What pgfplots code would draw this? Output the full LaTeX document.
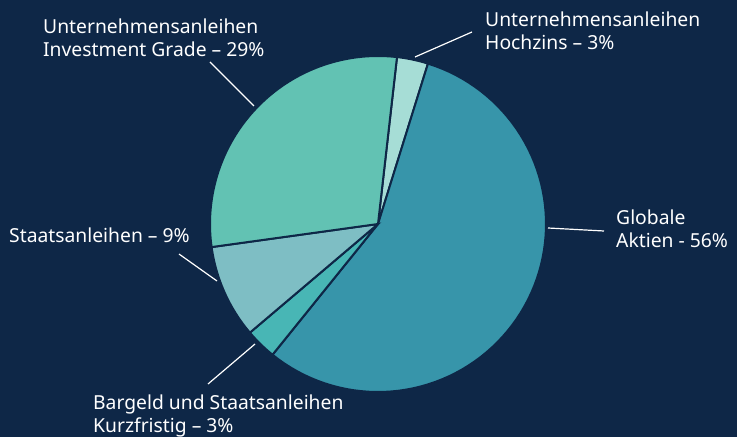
\documentclass[border=0pt]{standalone}
\usepackage{fontspec}
\setmainfont{Noto Sans}
\usepackage{pgfplots}
\pgfplotsset{compat=1.18}
\definecolor{bg}{HTML}{0E2747}
\definecolor{cHZ}{HTML}{A6DDD6}
\definecolor{cGA}{HTML}{3795AA}
\definecolor{cBG}{HTML}{48B6B5}
\definecolor{cST}{HTML}{7EBEC4}
\definecolor{cIG}{HTML}{62C2B3}
\newcommand\lab{\fontsize{19.3bp}{23bp}\selectfont}
% slice: start percent, share percent, colour
\newcommand{\slice}[3]{%
  \addplot[fill=#3, draw=bg, line width=2bp, domain=0:1, samples=80, variable=\t]
    ({378+168*cos(83.5-3.6*(#1+#2*\t))}, {213+168*sin(83.5-3.6*(#1+#2*\t))})
    -- (axis cs:378,213) -- cycle;
}
\begin{document}
\begin{tikzpicture}
\begin{axis}[scale only axis, width=737bp, height=437bp,
  xmin=0, xmax=737, ymin=0, ymax=437,
  axis lines=none, ticks=none, clip=false,
  axis background/.style={fill=bg}]
% shares: Hochzins 3, Globale Aktien 56, Bargeld 3, Staatsanleihen 9, Investment Grade 29
\slice{0}{3}{cHZ}
\slice{3}{56}{cGA}
\slice{59}{3}{cBG}
\slice{62}{9}{cST}
\slice{71}{29}{cIG}
% leader lines
\addplot[white, line width=1.2bp] coordinates {(210,375) (254,331)};
\addplot[white, line width=1.2bp] coordinates {(472,405) (415,380)};
\addplot[white, line width=1.2bp] coordinates {(179,183) (217,156)};
\addplot[white, line width=1.2bp] coordinates {(548,209) (604,206)};
\addplot[white, line width=1.2bp] coordinates {(208,53) (255,93)};
% labels
\begin{scope}[every node/.style={anchor=base west, inner sep=0pt, text=white, font=\lab}]
\node at (axis cs:43,403) {Unternehmensanleihen};
\node at (axis cs:43,380) {Investment Grade – 29\%};
\node at (axis cs:485,410) {Unternehmensanleihen};
\node at (axis cs:485,387) {Hochzins – 3\%};
\node at (axis cs:9,194) {Staatsanleihen – 9\%};
\node at (axis cs:616,212) {Globale};
\node at (axis cs:616,189) {Aktien - 56\%};
\node at (axis cs:93,28) {Bargeld und Staatsanleihen};
\node at (axis cs:93,5) {Kurzfristig – 3\%};
\end{scope}
\end{axis}
\end{tikzpicture}
\end{document}
